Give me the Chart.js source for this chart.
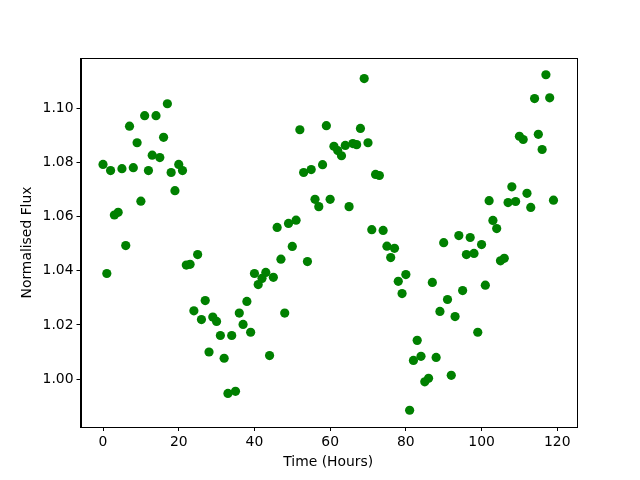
<!DOCTYPE html>
<html>
<head>
<meta charset="utf-8">
<script src="https://cdn.jsdelivr.net/npm/chart.js@4/dist/chart.umd.min.js"></script>
<style>
html,body{margin:0;padding:0;background:#fff;}
#wrap{width:640px;height:480px;}
</style>
</head>
<body>
<div id="wrap"><canvas id="c" width="640" height="480"></canvas></div>
<script>
const hours = [];
for (let i = 0; i < 120; i++) hours.push(i);
const flux = [
1.0793,1.0390,1.0770,1.0606,1.0616,1.0777,1.0493,1.0934,1.0781,1.0873,
1.0657,1.0973,1.0770,1.0827,1.0973,1.0818,1.0893,1.1017,1.0763,1.0696,
1.0793,1.0770,1.0421,1.0424,1.0252,1.0460,1.0220,1.0290,1.0100,1.0229,
1.0213,1.0161,1.0077,0.9947,1.0161,0.9955,1.0244,1.0202,1.0287,1.0173,
1.0390,1.0349,1.0372,1.0394,1.0087,1.0376,1.0560,1.0443,1.0244,1.0575,
1.0490,1.0587,1.0921,1.0763,1.0434,1.0774,1.0664,1.0637,1.0792,1.0936,
1.0664,1.0860,1.0844,1.0825,1.0863,1.0637,1.0870,1.0866,1.0926,1.1110,
1.0873,1.0552,1.0756,1.0752,1.0549,1.0491,1.0449,1.0483,1.0361,1.0316,
1.0386,0.9885,1.0069,1.0143,1.0084,0.9990,1.0003,1.0357,1.0080,1.0250,
1.0504,1.0294,1.0014,1.0231,1.0530,1.0327,1.0460,1.0523,1.0464,1.0173,
1.0497,1.0347,1.0659,1.0586,1.0556,1.0437,1.0446,1.0652,1.0710,1.0656,
1.0897,1.0885,1.0686,1.0634,1.1036,1.0904,1.0848,1.1124,1.1039,1.0661
];
const xTicks = [0, 20, 40, 60, 80, 100, 120];
const yTicks = [1.00, 1.02, 1.04, 1.06, 1.08, 1.10];
const xLabel = 'Time (Hours)';
const yLabel = 'Normalised Flux';

const points = hours.map((h, i) => ({x: h, y: flux[i]}));
function lim(arr) {
  const mn = Math.min(...arr), mx = Math.max(...arr), r = mx - mn;
  return [mn - 0.05 * r, mx + 0.05 * r];
}
const [xmin, xmax] = lim(hours);
const [ymin, ymax] = lim(flux);

const FONT = {family: 'DejaVu Sans', size: 13.9};

const frame = {
  id: 'frame',
  afterDatasetsDraw(chart) {
    const {ctx, chartArea: a} = chart;
    ctx.save();
    ctx.strokeStyle = '#000';
    ctx.lineWidth = 1;
    ctx.strokeRect(Math.round(a.left) + 0.5, Math.round(a.top) + 0.5,
      Math.round(a.right - a.left), Math.round(a.bottom - a.top));
    ctx.restore();
  }
};

new Chart(document.getElementById('c'), {
  type: 'scatter',
  data: {
    datasets: [{
      data: points,
      backgroundColor: '#008000',
      borderColor: '#008000',
      borderWidth: 0,
      pointRadius: 4.6,
      pointHoverRadius: 4.6
    }]
  },
  options: {
    responsive: false,
    animation: false,
    events: [],
    layout: {padding: {left: 0, right: 64, top: 58, bottom: 0}},
    plugins: {legend: {display: false}, tooltip: {enabled: false}},
    scales: {
      x: {
        type: 'linear',
        min: xmin, max: xmax,
        afterBuildTicks: s => { s.ticks = xTicks.map(v => ({value: v})); },
        afterFit: s => { s.height = 53; },
        grid: {drawOnChartArea: false, tickLength: 4, color: '#000', tickWidth: 1},
        border: {display: true, color: '#000'},
        ticks: {color: '#000', font: FONT, padding: 3, maxRotation: 0,
          callback: v => String(v)},
        title: {display: true, text: xLabel, color: '#000', font: FONT,
          padding: {top: 0, bottom: 9}}
      },
      y: {
        type: 'linear',
        min: ymin, max: ymax,
        afterBuildTicks: s => { s.ticks = yTicks.map(v => ({value: v})); },
        afterFit: s => { s.width = 80.5; },
        grid: {drawOnChartArea: false, tickLength: 4, color: '#000', tickWidth: 1},
        border: {display: true, color: '#000'},
        ticks: {color: '#000', font: FONT, padding: 3,
          callback: v => Number(v).toFixed(2)},
        title: {display: true, text: yLabel, color: '#000', font: FONT,
          padding: {top: 19, bottom: 0}}
      }
    }
  },
  plugins: [frame]
});
</script>
</body>
</html>
